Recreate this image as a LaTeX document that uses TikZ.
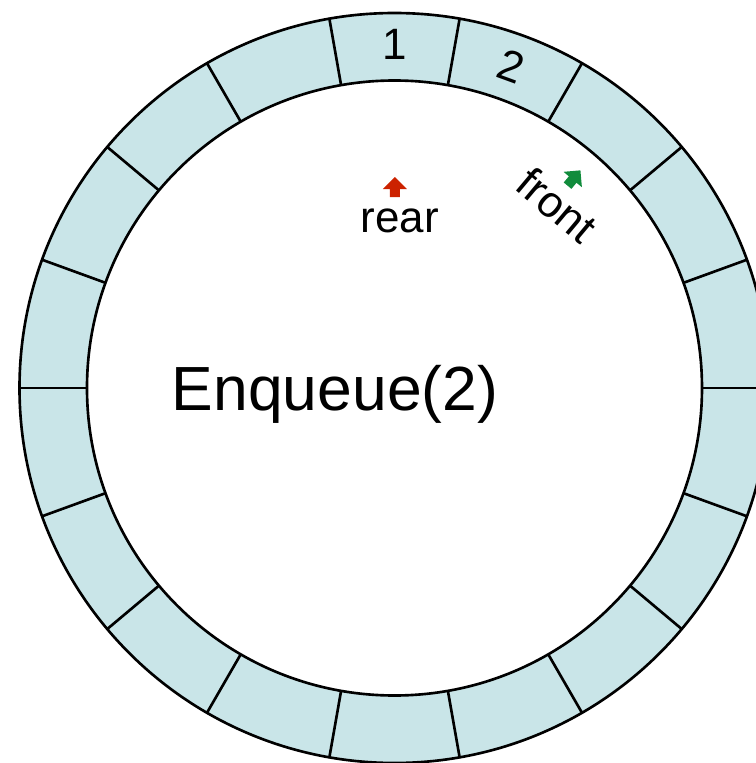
\documentclass[tikz,border=0pt]{standalone}
\usepackage{fontspec}
\setmainfont{Liberation Sans}
\usetikzlibrary{positioning}
\definecolor{slotblue}{HTML}{C9E5E8}
\definecolor{rearred}{HTML}{CC2200}
\definecolor{frontgreen}{HTML}{118C3C}

\begin{document}
\begin{tikzpicture}[
      every node/.style={font=\fontsize{25}{30}\selectfont, inner sep=0pt},
      ring/.style={line width=1.5pt},
      slotlabel/.style={anchor=center},
      title/.style={font=\fontsize{35.5}{42}\selectfont, anchor=base},
    ]
    \useasboundingbox (-7.89,-7.5) rectangle (7.23,7.76);

    % Ring of 18 slots
    \fill[slotblue, even odd rule] (0,0) circle (7.5) (0,0) circle (6.15);
    \draw[ring] (0,0) circle (7.5);
    \draw[ring] (0,0) circle (6.15);
    \foreach \a in {0,20,...,340}
      \draw[ring] (\a:6.15) -- (\a:7.5);

    % Slot contents
    \node[slotlabel] (slotA) at (90:6.88) {1};
    \node[slotlabel, rotate=-20] (slotB) at (70:6.85) {2};

    % Pointers
    \fill[rearred, shift={(0.01,4.02)}]
      (0,0.2) -- (0.24,-0.04) -- (0.1,-0.04) -- (0.1,-0.2)
      -- (-0.1,-0.2) -- (-0.1,-0.04) -- (-0.24,-0.04) -- cycle;
    \node[anchor=base] (rear) at (0.11,3.12) {rear};
    \fill[frontgreen, shift={(3.59,4.2)}, rotate=-40]
      (0,0.2) -- (0.24,-0.04) -- (0.1,-0.04) -- (0.1,-0.2)
      -- (-0.1,-0.2) -- (-0.1,-0.04) -- (-0.24,-0.04) -- cycle;
    \node[rotate=-40] (front) at (3.25,3.66) {front};

    % Operation
    \node[title] (op) at (-1.19,-0.44) {Enqueue(2)};
  \end{tikzpicture}
\end{document}
